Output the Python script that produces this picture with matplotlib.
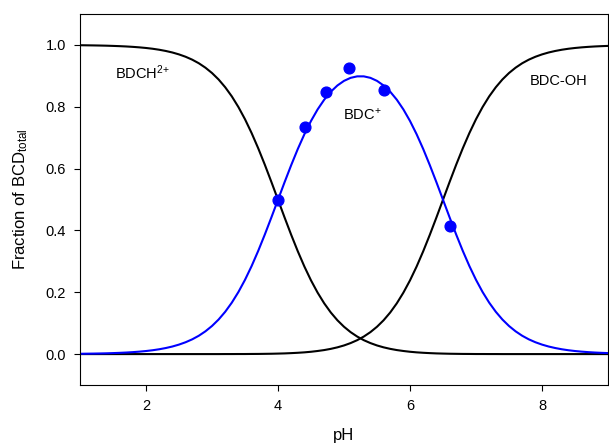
import matplotlib.pyplot as plt

plt.rcParams['font.family'] = ['Liberation Sans', 'DejaVu Sans']
plt.rcParams['mathtext.fontset'] = 'custom'
plt.rcParams['mathtext.rm'] = 'Liberation Sans'
plt.rcParams['mathtext.it'] = 'Liberation Sans:italic'

# courbes (pH de 1 a 9, pas de 0.1)
ph = [round(1 + 0.1 * i, 1) for i in range(81)]
bdch2 = [0.9990, 0.9987, 0.9984, 0.9980, 0.9975, 0.9968, 0.9960, 0.9950, 0.9937, 0.9921,
         0.9901, 0.9876, 0.9844, 0.9804, 0.9755, 0.9693, 0.9617, 0.9523, 0.9407, 0.9264,
         0.9091, 0.8882, 0.8631, 0.8336, 0.7991, 0.7596, 0.7150, 0.6658, 0.6127, 0.5567,
         0.4992, 0.4417, 0.3857, 0.3325, 0.2831, 0.2384, 0.1988, 0.1642, 0.1345, 0.1094,
         0.0884, 0.0710, 0.0567, 0.0450, 0.0356, 0.0279, 0.0218, 0.0169, 0.0130, 0.0100,
         0.0075, 0.0056, 0.0042, 0.0031, 0.0022, 0.0016, 0.0011, 0.0008, 0.0005, 0.0004,
         0.0002, 0.0002, 0.0001, 0.0001, 0.0, 0.0, 0.0, 0.0, 0.0, 0.0,
         0.0, 0.0, 0.0, 0.0, 0.0, 0.0, 0.0, 0.0, 0.0, 0.0,
         0.0]
bdc = [0.0010, 0.0013, 0.0016, 0.0020, 0.0025, 0.0032, 0.0040, 0.0050, 0.0063, 0.0079,
       0.0099, 0.0124, 0.0156, 0.0196, 0.0245, 0.0307, 0.0383, 0.0477, 0.0593, 0.0736,
       0.0909, 0.1118, 0.1368, 0.1663, 0.2007, 0.2402, 0.2846, 0.3337, 0.3866, 0.4422,
       0.4992, 0.5561, 0.6112, 0.6634, 0.7112, 0.7540, 0.7913, 0.8228, 0.8486, 0.8688,
       0.8837, 0.8935, 0.8983, 0.8983, 0.8935, 0.8837, 0.8688, 0.8486, 0.8228, 0.7913,
       0.7540, 0.7112, 0.6634, 0.6112, 0.5561, 0.4992, 0.4422, 0.3866, 0.3337, 0.2846,
       0.2402, 0.2007, 0.1663, 0.1368, 0.1118, 0.0909, 0.0736, 0.0593, 0.0477, 0.0383,
       0.0307, 0.0245, 0.0196, 0.0156, 0.0124, 0.0099, 0.0079, 0.0063, 0.0050, 0.0040,
       0.0032]
bdc_oh = [0.0, 0.0, 0.0, 0.0, 0.0, 0.0, 0.0, 0.0, 0.0, 0.0,
          0.0, 0.0, 0.0, 0.0, 0.0, 0.0, 0.0, 0.0, 0.0, 0.0,
          0.0, 0.0, 0.0001, 0.0001, 0.0002, 0.0002, 0.0004, 0.0005, 0.0008, 0.0011,
          0.0016, 0.0022, 0.0031, 0.0042, 0.0056, 0.0075, 0.0100, 0.0130, 0.0169, 0.0218,
          0.0279, 0.0356, 0.0450, 0.0567, 0.0710, 0.0884, 0.1094, 0.1345, 0.1642, 0.1988,
          0.2384, 0.2831, 0.3325, 0.3857, 0.4417, 0.4992, 0.5567, 0.6127, 0.6658, 0.7150,
          0.7596, 0.7991, 0.8336, 0.8631, 0.8882, 0.9091, 0.9264, 0.9407, 0.9523, 0.9617,
          0.9693, 0.9755, 0.9804, 0.9844, 0.9876, 0.9901, 0.9921, 0.9937, 0.9950, 0.9960,
          0.9968]

# points experimentaux
ph_exp = [4.0, 4.41, 4.73, 5.07, 5.6, 6.6]
frac_exp = [0.50, 0.735, 0.849, 0.926, 0.854, 0.414]

fig = plt.figure(figsize=(6.09, 4.46), dpi=100)
ax = fig.add_axes([80 / 609, 1 - 385 / 446, 528 / 609, 371 / 446])

ax.plot(ph, bdch2, color='black', lw=1.5)
ax.plot(ph, bdc_oh, color='black', lw=1.5)
ax.plot(ph, bdc, color='blue', lw=1.5)
ax.scatter(ph_exp, frac_exp, color='blue', s=60, zorder=3)

ax.text(1.53, 0.89, 'BDCH$^{2{+}}$', fontsize=10.5)
ax.text(4.99, 0.76, 'BDC$^{{+}}$', fontsize=10.5)
ax.text(7.82, 0.87, 'BDC-OH', fontsize=10.5)

ax.set_xlim(1, 9)
ax.set_ylim(-0.1, 1.1)
ax.set_xticks([2, 4, 6, 8])
ax.set_yticks([0.0, 0.2, 0.4, 0.6, 0.8, 1.0])
ax.set_yticklabels(['0.0', '0.2', '0.4', '0.6', '0.8', '1.0'])
ax.tick_params(direction='out', length=4, labelsize=10.5, pad=6)
ax.set_xlabel('pH', fontsize=12, labelpad=11)
ax.set_ylabel('Fraction of BCD$_{\\mathrm{total}}$', fontsize=12, labelpad=11)

plt.savefig('out.png', dpi=100)
